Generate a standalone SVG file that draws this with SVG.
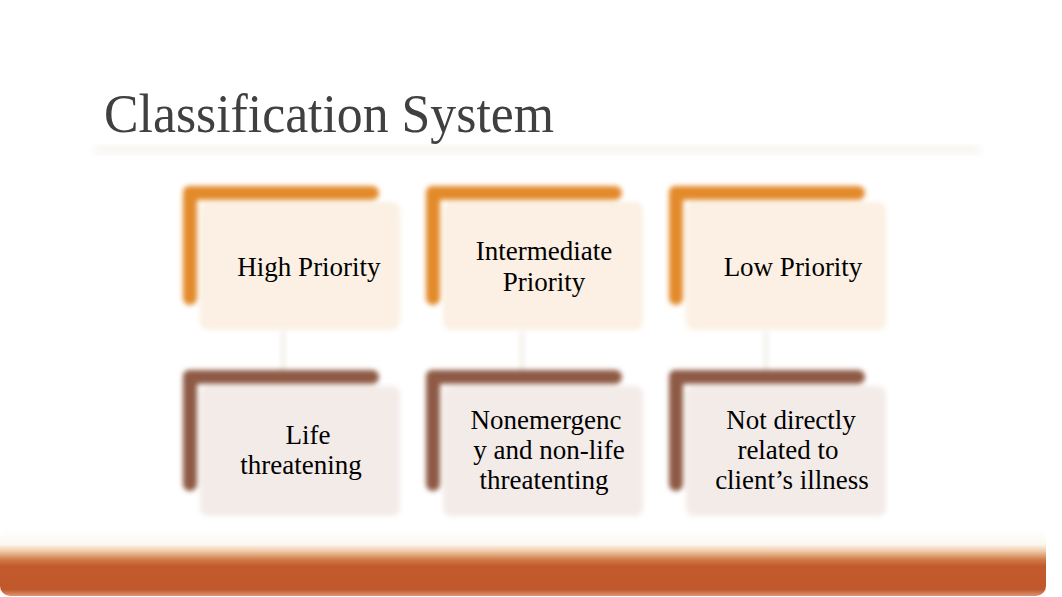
<svg xmlns="http://www.w3.org/2000/svg" width="1062" height="597" viewBox="0 0 1062 597">
<defs>
<filter id="blur" x="-20%" y="-20%" width="140%" height="140%"><feGaussianBlur stdDeviation="2.5"/></filter>
<filter id="blur2" x="-20%" y="-20%" width="140%" height="140%"><feGaussianBlur stdDeviation="4"/></filter>
<linearGradient id="bar" x1="0" y1="0" x2="0" y2="1">
<stop offset="0" stop-color="#ffffff"/>
<stop offset="0.22" stop-color="#fbf7ef"/>
<stop offset="0.32" stop-color="#efc9a6"/>
<stop offset="0.45" stop-color="#d07a47"/>
<stop offset="0.55" stop-color="#c25a2d"/>
<stop offset="0.9" stop-color="#c0582c"/>
<stop offset="1" stop-color="#dc9472"/>
</linearGradient>
</defs>
<style>
text{font-family:'Liberation Serif',serif}
.t{font-size:27px;fill:#000;text-anchor:middle}
.title{font-size:55px;fill:#404040}
.ob{fill:#e38a2c}
.bb{fill:#8e5a45}
.of{fill:#fbf0e3}
.bf{fill:#f3ebe8}
.conn{stroke:#ece9e0;stroke-width:3;fill:none}
</style>
<rect width="1062" height="597" fill="#ffffff"/>
<text class="title" font-family="Liberation Serif" x="104" y="132" textLength="450" lengthAdjust="spacingAndGlyphs">Classification System</text>
<rect x="95" y="146" width="885" height="8" fill="#f6f3ee" filter="url(#blur2)"/>
<g id="connectors" filter="url(#blur)">
<line class="conn" x1="283" y1="330" x2="283" y2="372"/>
<line class="conn" x1="522" y1="330" x2="522" y2="372"/>
<line class="conn" x1="766" y1="330" x2="766" y2="372"/>
</g>
<g id="high">
<rect x="200" y="202" width="200" height="128" rx="8" class="of" filter="url(#blur)"/>
<path class="ob" filter="url(#blur)" d="M189 186 H372 a7 7 0 0 1 0 14 H197 V298 a7 7 0 0 1 -14 0 V192 a6 6 0 0 1 6 -6 Z"/>
<text class="t" font-family="Liberation Serif" x="309" y="276">High Priority</text>
</g>
<g id="intermediate">
<rect x="443" y="202" width="200" height="128" rx="8" class="of" filter="url(#blur)"/>
<path class="ob" filter="url(#blur)" d="M432 186 H615 a7 7 0 0 1 0 14 H440 V298 a7 7 0 0 1 -14 0 V192 a6 6 0 0 1 6 -6 Z"/>
<text class="t" font-family="Liberation Serif" x="544" y="260">Intermediate</text>
<text class="t" font-family="Liberation Serif" x="544" y="291">Priority</text>
</g>
<g id="low">
<rect x="686" y="202" width="200" height="128" rx="8" class="of" filter="url(#blur)"/>
<path class="ob" filter="url(#blur)" d="M675 186 H858 a7 7 0 0 1 0 14 H683 V298 a7 7 0 0 1 -14 0 V192 a6 6 0 0 1 6 -6 Z"/>
<text class="t" font-family="Liberation Serif" x="793" y="276">Low Priority</text>
</g>
<g id="life">
<rect x="200" y="386" width="200" height="130" rx="8" class="bf" filter="url(#blur)"/>
<path class="bb" filter="url(#blur)" d="M189 370 H372 a7 7 0 0 1 0 14 H197 V484 a7 7 0 0 1 -14 0 V376 a6 6 0 0 1 6 -6 Z"/>
<text class="t" font-family="Liberation Serif" x="308" y="444">Life</text>
<text class="t" font-family="Liberation Serif" x="301" y="474">threatening</text>
</g>
<g id="nonemergency">
<rect x="443" y="386" width="200" height="130" rx="8" class="bf" filter="url(#blur)"/>
<path class="bb" filter="url(#blur)" d="M432 370 H615 a7 7 0 0 1 0 14 H440 V484 a7 7 0 0 1 -14 0 V376 a6 6 0 0 1 6 -6 Z"/>
<text class="t" font-family="Liberation Serif" x="546" y="429">Nonemergenc</text>
<text class="t" font-family="Liberation Serif" x="549" y="459">y and non-life</text>
<text class="t" font-family="Liberation Serif" x="544" y="489">threatenting</text>
</g>
<g id="notdirect">
<rect x="686" y="386" width="200" height="130" rx="8" class="bf" filter="url(#blur)"/>
<path class="bb" filter="url(#blur)" d="M675 370 H858 a7 7 0 0 1 0 14 H683 V484 a7 7 0 0 1 -14 0 V376 a6 6 0 0 1 6 -6 Z"/>
<text class="t" font-family="Liberation Serif" x="791" y="429">Not directly</text>
<text class="t" font-family="Liberation Serif" x="788" y="459">related to</text>
<text class="t" font-family="Liberation Serif" x="792" y="489">client’s illness</text>
</g>
<rect x="0" y="530" width="1046" height="66" rx="10" fill="url(#bar)"/>
</svg>
